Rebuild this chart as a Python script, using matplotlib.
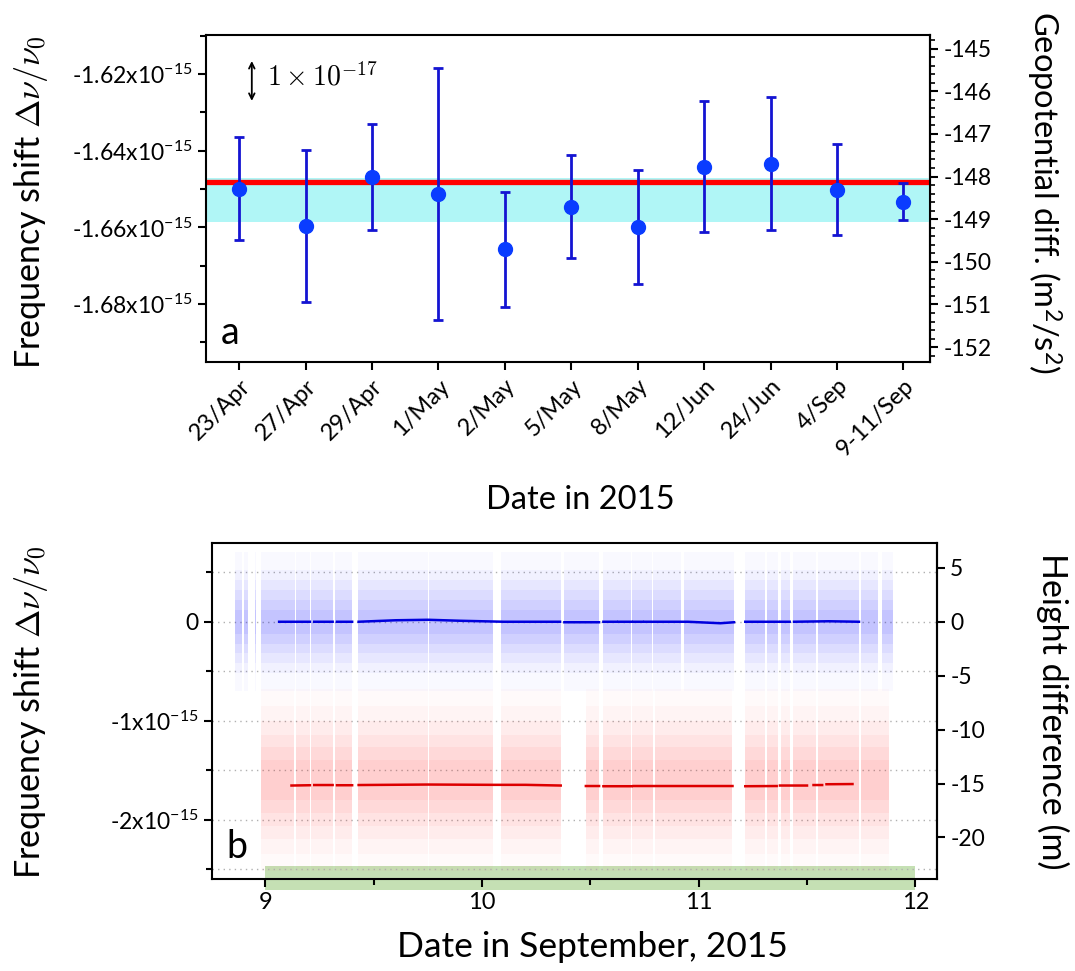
import numpy as np
import matplotlib
matplotlib.use("Agg")
import matplotlib.pyplot as plt
from matplotlib.ticker import MultipleLocator, FixedLocator

plt.rcParams['font.family'] = ['Lato', 'DejaVu Sans']
plt.rcParams['mathtext.fontset'] = 'custom'
plt.rcParams['mathtext.rm'] = 'Lato'
plt.rcParams['mathtext.it'] = 'Lato:italic'
plt.rcParams['axes.linewidth'] = 1.5

C2 = 8.98755e16       # c^2
G_C2 = 1.09e-16       # g/c^2 per metre

# ---- panel a: campaign averages (units of 1e-15) ----
dates = ["23/Apr", "27/Apr", "29/Apr", "1/May", "2/May", "5/May",
         "8/May", "12/Jun", "24/Jun", "4/Sep", "9-11/Sep"]
shift = [-1.6499, -1.6597, -1.6468, -1.6512, -1.6657, -1.6546,
         -1.6598, -1.6442, -1.6435, -1.6503, -1.6533]
upper = [-1.6364, -1.6398, -1.6331, -1.6183, -1.6508, -1.6411,
         -1.6450, -1.6270, -1.6259, -1.6383, -1.6483]
lower = [-1.6632, -1.6795, -1.6606, -1.6842, -1.6808, -1.6679,
         -1.6748, -1.6611, -1.6608, -1.6621, -1.6581]
mean_shift = -1.6481
band = (-1.6585, -1.6470)

# ---- panel b: September run (units of 1e-15, x = day of Sept) ----
blue_runs = [(8.86, 8.89), (8.90, 8.92), (8.95, 8.955), (8.98, 9.135),
             (9.14, 9.205), (9.21, 9.31), (9.32, 9.40), (9.425, 9.75),
             (9.757, 10.05), (10.087, 10.363), (10.379, 10.54),
             (10.556, 10.687), (10.694, 10.786), (10.79, 10.92),
             (10.93, 11.163), (11.215, 11.305), (11.315, 11.365),
             (11.38, 11.42), (11.435, 11.54), (11.55, 11.74),
             (11.747, 11.83), (11.846, 11.895)]
red_runs = [(8.98, 9.13), (9.14, 9.205), (9.21, 9.31), (9.32, 9.40),
            (9.425, 9.75), (9.757, 10.05), (10.087, 10.363),
            (10.479, 10.54), (10.556, 10.687), (10.694, 10.79),
            (10.80, 11.156), (11.215, 11.305), (11.315, 11.365),
            (11.38, 11.42), (11.435, 11.54), (11.55, 11.74),
            (11.75, 11.877)]
# half-heights of the shaded cloud layers
blue_center = 0.0
blue_extent = [0.12, 0.22, 0.32, 0.42, 0.52, 0.7]
red_center = -1.6
red_extent = [0.2, 0.33, 0.46, 0.6, 0.75, 0.92]

blue_avg_x = [9.063, 9.205, np.nan, 9.225, 9.31, np.nan, 9.33, 9.40, np.nan,
              9.43, 9.6, 9.75, 9.9, 10.1, 10.36, np.nan, 10.38, 10.54, np.nan,
              10.56, 10.62, np.nan, 10.63, 10.69, np.nan, 10.70, 10.74, np.nan,
              10.75, 10.95, 11.1, 11.163, np.nan, 11.215, 11.37, np.nan,
              11.38, 11.42, np.nan, 11.44, 11.6, 11.74]
blue_avg_y = [0.0, 0.0, np.nan, 0.0, 0.0, np.nan, 0.0, 0.0, np.nan,
              0.0, 0.015, 0.02, 0.01, 0.0, 0.0, np.nan, -0.005, -0.005, np.nan,
              0.0, 0.0, np.nan, 0.0, 0.0, np.nan, 0.0, 0.0, np.nan,
              0.0, 0.0, -0.015, -0.005, np.nan, 0.0, 0.0, np.nan,
              0.0, 0.0, np.nan, 0.0, 0.005, 0.0]
red_avg_x = [9.12, 9.205, np.nan, 9.225, 9.31, np.nan, 9.33, 9.40, np.nan,
             9.43, 9.75, 10.05, 10.2, 10.363, np.nan, 10.479, 10.54, np.nan,
             10.56, 10.69, np.nan, 10.70, 11.156, np.nan, 11.215, 11.36, np.nan,
             11.375, 11.5, np.nan, 11.53, 11.57, np.nan, 11.59, 11.71]
red_avg_y = [-1.655, -1.652, np.nan, -1.65, -1.65, np.nan, -1.652, -1.652, np.nan,
             -1.65, -1.645, -1.648, -1.648, -1.655, np.nan, -1.66, -1.66, np.nan,
             -1.662, -1.662, np.nan, -1.66, -1.66, np.nan, -1.662, -1.66, np.nan,
             -1.655, -1.655, np.nan, -1.65, -1.65, np.nan, -1.642, -1.64]

fig = plt.figure(figsize=(10.75, 9.71), dpi=100)
tick_fs = 16.5

# ================= panel a =================
ax1 = fig.add_axes([0.1916, 0.6272, 0.6735, 0.3368])
x = np.arange(len(dates))
ax1.axhspan(band[0], band[1], color='#b0f6f6', lw=0, zorder=1)
ax1.axhline(mean_shift, color='#ff0000', lw=3.8, zorder=2)
yerr = [np.array(shift) - np.array(lower), np.array(upper) - np.array(shift)]
ax1.errorbar(x, shift, yerr=yerr, fmt='o', ms=10, mfc='#0a3cff', mec='#0a3cff',
             ecolor='#1414d2', elinewidth=2, capsize=3.5, capthick=2, zorder=3)
ax1.set_xlim(-0.5, 10.4)
ax1.set_ylim(-1.6951, -1.6098)
ax1.set_xticks(x)
ax1.set_xticklabels(dates, rotation=45, ha='right', rotation_mode='anchor',
                    fontsize=17)
ax1.yaxis.set_major_locator(FixedLocator([-1.62, -1.64, -1.66, -1.68]))
ax1.yaxis.set_minor_locator(FixedLocator([-1.61, -1.63, -1.65, -1.67, -1.69]))
ax1.set_yticklabels([r'%.2fx10$^{\mathregular{-15}}$' % v for v in [-1.62, -1.64, -1.66, -1.68]],
                    fontsize=tick_fs)
ax1.tick_params(which='major', direction='out', length=6, width=1.5)
ax1.tick_params(which='minor', direction='out', length=4, width=1.5)

sec1 = ax1.secondary_yaxis('right', functions=(lambda v: v * 1e-15 * C2,
                                               lambda g: g / C2 * 1e15))
sec1.yaxis.set_major_locator(FixedLocator(list(range(-152, -144))))
sec1.yaxis.set_minor_locator(MultipleLocator(0.2))
sec1.set_yticklabels([str(v) for v in range(-152, -144)], fontsize=tick_fs)
sec1.tick_params(which='major', direction='out', length=6, width=1.5)
sec1.tick_params(which='minor', direction='out', length=3.5, width=1.2)

ax1.annotate('', xy=(0.19, -1.6166), xytext=(0.19, -1.6270),
             arrowprops=dict(arrowstyle='<->', lw=1.3, color='k',
                             shrinkA=0, shrinkB=0))
ax1.text(0.42, -1.6205, r'$1\times10^{-17}$', math_fontfamily='cm',
         fontsize=20, va='center')
ax1.text(0.02, 0.09, 'a', transform=ax1.transAxes, fontsize=27, va='center')

fig.text(0.029, 0.792, r'Frequency shift $\mathit{\Delta\nu}/\mathit{\nu}_0$',
         rotation=90, ha='center', va='center', fontsize=24.5, math_fontfamily='cm')
fig.text(0.971, 0.802, r'Geopotential diff. (m$^{\mathregular{2}}$/s$^{\mathregular{2}}$)',
         rotation=270, ha='center', va='center', fontsize=23.5)
fig.text(0.54, 0.485, 'Date in 2015', ha='center', va='center', fontsize=23.5)

# ================= panel b =================
ax2 = fig.add_axes([0.1972, 0.0947, 0.6744, 0.346])
blue_bars = [(s, e - s) for s, e in blue_runs]
red_bars = [(s, e - s) for s, e in red_runs]
for h, a in zip(blue_extent, [0.06, 0.05, 0.045, 0.04, 0.03, 0.025]):
    ax2.broken_barh(blue_bars, (blue_center - h, 2 * h),
                    facecolors='#0000ff', alpha=a, lw=0, zorder=1)
for h, a in zip(red_extent, [0.04, 0.04, 0.035, 0.03, 0.025, 0.02]):
    ax2.broken_barh(red_bars, (red_center - h, 2 * h),
                    facecolors='#ff0000', alpha=a, lw=0, zorder=1)
ax2.plot(blue_avg_x, blue_avg_y, color='#0000dd', lw=1.8, zorder=3)
ax2.plot(red_avg_x, red_avg_y, color='#dd0000', lw=1.8, zorder=3)
ax2.axvspan(9, 12, ymin=-0.034, ymax=0.04, color='#c5e0b4', lw=0,
            clip_on=False, zorder=0.5)

ax2.set_xlim(8.753, 12.1)
ax2.set_ylim(-2.6, 0.795)
ax2.xaxis.set_major_locator(FixedLocator([9, 10, 11, 12]))
ax2.xaxis.set_minor_locator(FixedLocator([9.5, 10.5, 11.5]))
ax2.set_xticklabels(['9', '10', '11', '12'], fontsize=17)
ax2.yaxis.set_major_locator(FixedLocator([0, -1, -2]))
ax2.yaxis.set_minor_locator(FixedLocator([0.5, -0.5, -1.5, -2.5]))
ax2.set_yticklabels(['0', r'-1x10$^{\mathregular{-15}}$', r'-2x10$^{\mathregular{-15}}$'],
                    fontsize=tick_fs)
ax2.yaxis.grid(True, which='both', ls=(0, (1, 3)), color='#b0b0b0', lw=1)
ax2.set_axisbelow(True)
ax2.tick_params(which='major', direction='out', length=6, width=1.5)
ax2.tick_params(which='minor', direction='out', length=4, width=1.5)

sec2 = ax2.secondary_yaxis('right', functions=(lambda v: v * 1e-15 / G_C2,
                                               lambda m: m * G_C2 * 1e15))
sec2.yaxis.set_major_locator(FixedLocator([5, 0, -5, -10, -15, -20]))
sec2.set_yticklabels(['5', '0', '-5', '-10', '-15', '-20'], fontsize=tick_fs)
sec2.tick_params(which='major', direction='out', length=6, width=1.5)

ax2.text(0.02, 0.096, 'b', transform=ax2.transAxes, fontsize=27, va='center')

fig.text(0.029, 0.266, r'Frequency shift $\mathit{\Delta\nu}/\mathit{\nu}_0$',
         rotation=90, ha='center', va='center', fontsize=24.5, math_fontfamily='cm')
fig.text(0.979, 0.268, 'Height difference (m)', rotation=270,
         ha='center', va='center', fontsize=24.5)
fig.text(0.551, 0.025, 'Date in September, 2015', ha='center', va='center',
         fontsize=25.5)

fig.savefig('out.png', dpi=100)
